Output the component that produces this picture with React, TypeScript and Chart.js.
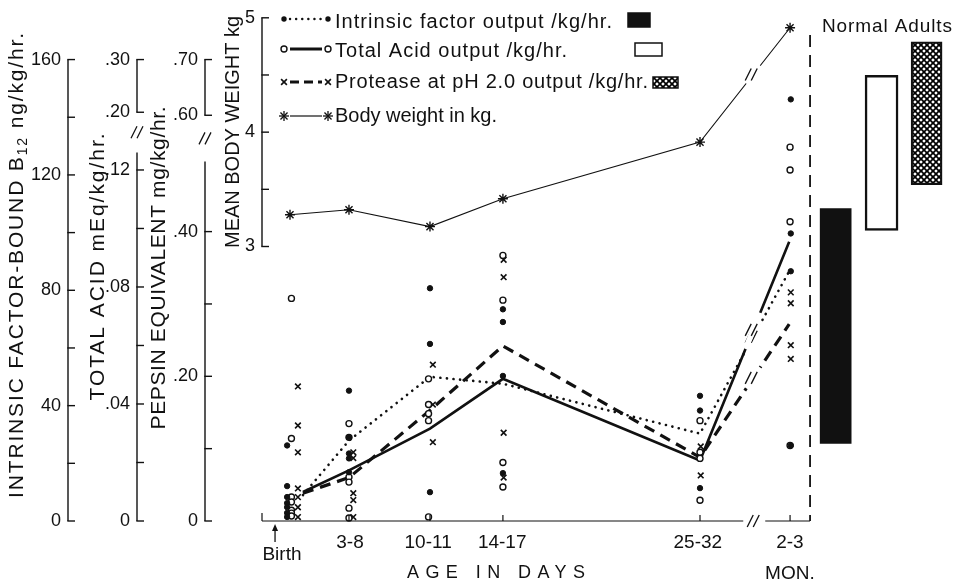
import React, { useEffect, useRef } from 'react';
import { Chart, registerables, LinearScale } from 'chart.js';

// ---------------- data ----------------
const groupLabels: (string | string[])[] = ['Birth', '3-8', '10-11', '14-17', '25-32', ['2-3', 'MON.']];
// position of each age group on the (broken) age axis
const groupPos = [0, 4.1, 9.73, 14.8, 28.5, 34.76];
const labelPos = [-0.56, 4.17, 9.6, 14.75, 28.35, 34.75];
const meanPos = [0.9, 4.1, 9.73, 14.8, 28.5, 34.7];
const ifShift = [-0.2, 0, 0, 0, 0, 0.05];
const acidShift = [0.1, 0, -0.1, 0, 0, 0];
const protShift = [0.55, 0.3, 0.2, 0.05, 0.05, 0.05];

const seriesNames = [
  'Intrinsic factor output /kg/hr.',
  'Total Acid output /kg/hr.',
  'Protease at pH 2.0 output /kg/hr.',
  'Body weight in kg.',
];

// individual infants, per age group
const ifValues = [
  [26.2, 12.1, 8.3, 6.2, 4.8, 2.8, 1.4],
  [45.2, 29.0, 23.4, 21.7, 16.9],
  [80.7, 61.4, 10.0],
  [73.4, 69.0, 50.3, 16.6],
  [43.4, 38.3, 11.4],
  [146.2, 99.7, 86.6, 26.2],
];
const acidValues = [
  [0.0761, 0.0282, 0.0082, 0.0065, 0.0037, 0.0027, 0.0017],
  [0.0333, 0.0286, 0.015, 0.0133, 0.0044, 0.001],
  [0.0486, 0.0398, 0.0367, 0.0343, 0.0014],
  [0.0908, 0.0755, 0.02, 0.0116],
  [0.0343, 0.0235, 0.0214, 0.0071],
  [0.1278, 0.12, 0.1023, 0.0258],
];
const proteaseValues = [
  [0.186, 0.132, 0.095, 0.045, 0.033, 0.019, 0.0055],
  [0.095, 0.087, 0.0385, 0.029, 0.0055],
  [0.216, 0.161, 0.109],
  [0.361, 0.337, 0.122, 0.06],
  [0.103, 0.063],
  [0.316, 0.301, 0.243, 0.224],
];
// group means
const ifMean = [9.0, 27.9, 50.0, 47.6, 30.3, 86.6];
const acidMean = [0.0099, 0.0173, 0.0316, 0.0486, 0.0207, 0.0955];
const proteaseMean = [0.0385, 0.06, 0.153, 0.242, 0.088, 0.272];
const bodyWeight = [3.278, 3.322, 3.174, 3.417, 3.913, 4.913];

// normal adults ranges
const adultPos = [37.93, 41.12, 44.25];
const adultIF = [26.9, 108.3];
const adultAcid = [0.0993, 0.27];
const adultProtease = [0.465, 0.732];

// axis ticks
const ifTicks = [0, 20, 40, 60, 80, 100, 120, 140, 160];
const ifTickText = ['0', '', '40', '', '80', '', '120', '', '160'];
const acidTicks = [0, 0.02, 0.04, 0.06, 0.08, 0.1, 0.12, 0.2, 0.3];
const acidTickText = ['0', '', '.04', '', '.08', '', '.12', '.20', '.30'];
const pepsinTicks = [0, 0.1, 0.2, 0.3, 0.4, 0.6, 0.7];
const pepsinTickText = ['0', '', '.20', '', '.40', '.60', '.70'];
const weightTicks = [3, 3.5, 4, 4.5, 5];
const weightTickText = ['3', '', '4', '', '5'];

// ---------------- axis geometry (broken axes) ----------------
type Piece = { min: number; max: number; from: number; to: number };
const ifPieces: Piece[] = [{ min: 0, max: 160, from: 0, to: 0.917 }];
const acidPieces: Piece[] = [
  { min: 0, max: 0.12, from: 0, to: 0.6976 },
  { min: 0.2, max: 0.3, from: 0.8123, to: 0.917 },
];
const pepsinPieces: Piece[] = [
  { min: 0, max: 0.4, from: 0, to: 0.5751 },
  { min: 0.6, max: 0.7, from: 0.8063, to: 0.917 },
];
const weightPieces: Piece[] = [{ min: 3, max: 5, from: 0.5455, to: 1 }];
const ifSpans = [[0, 160]];
const acidSpans = [[0, 0.126], [0.2, 0.3]];
const pepsinSpans = [[0, 0.497], [0.6, 0.7]];
const weightSpans = [[3, 5]];
const X_MIN = -1.9463;
const X_MAX = 46.225;
const SEPARATOR_POS = 36.15;
const BREAK_POS = 32.2;
const ARROW_POS = -1.04;

const FONT = '"Liberation Sans", Arial, Helvetica, sans-serif';
const INK = '#111111';

class BrokenScale extends LinearScale {
  static id = 'broken';
  static defaults = {};
  getPixelForValue(value: number) {
    const self: any = this;
    const pieces: Piece[] = self.options.pieces;
    let p = pieces[0];
    for (const q of pieces) if (value >= q.min) p = q;
    const f = p.from + ((value - p.min) / (p.max - p.min)) * (p.to - p.from);
    return self.bottom - f * (self.bottom - self.top);
  }
  getValueForPixel(pixel: number) {
    const self: any = this;
    const pieces: Piece[] = self.options.pieces;
    const f = (self.bottom - pixel) / (self.bottom - self.top);
    let p = pieces[0];
    for (const q of pieces) if (f >= q.from) p = q;
    return p.min + ((f - p.from) / (p.to - p.from)) * (p.max - p.min);
  }
}

Chart.register(...registerables, BrokenScale as any);

type Part = { t: string; size: number; dy?: number };

function seg(ctx: CanvasRenderingContext2D, x0: number, y0: number, x1: number, y1: number) {
  ctx.beginPath();
  ctx.moveTo(x0, y0);
  ctx.lineTo(x1, y1);
  ctx.stroke();
}

function breakMark(ctx: CanvasRenderingContext2D, x: number, y: number) {
  ctx.save();
  ctx.setLineDash([]);
  ctx.strokeStyle = INK;
  ctx.lineWidth = 1.3;
  for (const dx of [-3, 3]) seg(ctx, x + dx - 3, y + 6, x + dx + 3, y - 6);
  ctx.restore();
}

function fitted(ctx: CanvasRenderingContext2D, parts: Part[], cx: number, cy: number, length: number, vertical = false) {
  const c: any = ctx;
  ctx.save();
  ctx.translate(cx, cy);
  if (vertical) ctx.rotate(-Math.PI / 2);
  ctx.fillStyle = INK;
  ctx.textBaseline = 'alphabetic';
  ctx.textAlign = 'left';
  let natural = 0;
  let chars = 0;
  const widths = parts.map((p) => {
    ctx.font = `${p.size}px ${FONT}`;
    c.letterSpacing = '0px';
    const w = ctx.measureText(p.t).width;
    natural += w;
    chars += p.t.length;
    return w;
  });
  const sp = (length - natural) / Math.max(1, chars - 1);
  let x = -length / 2;
  parts.forEach((p, i) => {
    ctx.font = `${p.size}px ${FONT}`;
    c.letterSpacing = `${sp}px`;
    ctx.fillText(p.t, x, p.dy || 0);
    x += widths[i] + sp * p.t.length;
  });
  ctx.restore();
}

function marker(ctx: CanvasRenderingContext2D, kind: string, x: number, y: number) {
  ctx.save();
  ctx.setLineDash([]);
  ctx.strokeStyle = INK;
  ctx.fillStyle = INK;
  if (kind === 'dot') {
    ctx.beginPath();
    ctx.arc(x, y, 2.7, 0, Math.PI * 2);
    ctx.fill();
  } else if (kind === 'ring') {
    ctx.beginPath();
    ctx.arc(x, y, 3, 0, Math.PI * 2);
    ctx.fillStyle = '#fff';
    ctx.fill();
    ctx.lineWidth = 1.4;
    ctx.stroke();
  } else if (kind === 'cross') {
    const d = 2.9;
    ctx.lineWidth = 1.6;
    seg(ctx, x - d, y - d, x + d, y + d);
    seg(ctx, x - d, y + d, x + d, y - d);
  } else {
    const r = 5;
    const d = r * 0.707;
    ctx.lineWidth = 1.3;
    seg(ctx, x - r, y, x + r, y);
    seg(ctx, x, y - r, x, y + r);
    seg(ctx, x - d, y - d, x + d, y + d);
    seg(ctx, x - d, y + d, x + d, y - d);
  }
  ctx.restore();
}

function makeHatch(): CanvasPattern | string {
  const c = document.createElement('canvas');
  c.width = 6;
  c.height = 6;
  const g = c.getContext('2d');
  if (!g) return '#555';
  g.fillStyle = '#fff';
  g.fillRect(0, 0, 6, 6);
  g.strokeStyle = '#000';
  g.lineWidth = 1.7;
  g.beginPath();
  for (const k of [-6, 0, 6]) {
    g.moveTo(k, 0);
    g.lineTo(k + 6, 6);
    g.moveTo(k, 6);
    g.lineTo(k + 6, 0);
  }
  g.stroke();
  return g.createPattern(c, 'repeat') || '#555';
}

function makeDecorations(hatch: CanvasPattern | string) {
  return {
    id: 'decorations',
    afterDraw(chart: any) {
      const ctx: CanvasRenderingContext2D = chart.ctx;
      const { scales, chartArea } = chart;
      const x = scales.x;
      ctx.save();
      ctx.strokeStyle = INK;
      ctx.fillStyle = INK;
      ctx.lineCap = 'butt';

      // y axes: lines with inward ticks and break marks
      const axes = [
        { s: scales.yIF, spans: ifSpans },
        { s: scales.yAcid, spans: acidSpans },
        { s: scales.yPep, spans: pepsinSpans },
        { s: scales.yBW, spans: weightSpans },
      ];
      for (const a of axes) {
        const ax = a.s.right;
        ctx.lineWidth = 1.4;
        for (const [v0, v1] of a.spans) seg(ctx, ax, a.s.getPixelForValue(v0), ax, a.s.getPixelForValue(v1));
        for (const t of a.s.ticks) {
          const py = a.s.getPixelForValue(t.value);
          seg(ctx, ax - 0.7, py, ax + 7, py);
        }
        if (a.spans.length > 1) {
          const yb = (a.s.getPixelForValue(a.spans[0][1]) + a.s.getPixelForValue(a.spans[1][0])) / 2;
          breakMark(ctx, ax, yb);
        }
      }

      // line breaks between 25-32 days and 2-3 months
      const xb = x.getPixelForValue(BREAK_POS);
      chart.data.datasets.forEach((ds: any, i: number) => {
        if (ds.type !== 'line') return;
        const pts = chart.getDatasetMeta(i).data;
        for (let k = 0; k < pts.length - 1; k++) {
          const a = pts[k];
          const b = pts[k + 1];
          if (a.x < xb && b.x > xb) {
            const yAt = (px: number) => a.y + ((px - a.x) / (b.x - a.x)) * (b.y - a.y);
            ctx.save();
            ctx.strokeStyle = '#fff';
            ctx.lineWidth = (ds.borderWidth || 1) + 3;
            seg(ctx, xb - 7, yAt(xb - 7), xb + 7, yAt(xb + 7));
            ctx.restore();
            breakMark(ctx, xb - 2, yAt(xb));
          }
        }
      });

      // x axis baseline
      const yBase = scales.yIF.getPixelForValue(0);
      const xL = chartArea.left;
      const xSep = x.getPixelForValue(SEPARATOR_POS);
      ctx.lineWidth = 1.2;
      seg(ctx, xL, yBase - 8, xL, yBase);
      seg(ctx, xL, yBase, xb - 10, yBase);
      seg(ctx, xb + 12, yBase, xSep, yBase);
      breakMark(ctx, xb, yBase);
      for (let g = 1; g < groupPos.length; g++) {
        const px = x.getPixelForValue(groupPos[g]);
        seg(ctx, px, yBase, px, yBase - 6);
      }

      // separator for normal adults
      ctx.save();
      ctx.lineWidth = 1.8;
      ctx.setLineDash([12, 8]);
      seg(ctx, xSep, 35, xSep, yBase);
      ctx.restore();

      // birth arrow
      const xa = x.getPixelForValue(ARROW_POS);
      ctx.lineWidth = 1.3;
      seg(ctx, xa, yBase + 21, xa, yBase + 6);
      ctx.beginPath();
      ctx.moveTo(xa, yBase + 3);
      ctx.lineTo(xa - 3, yBase + 10);
      ctx.lineTo(xa + 3, yBase + 10);
      ctx.closePath();
      ctx.fill();

      // axis titles
      fitted(ctx, [
        { t: 'INTRINSIC FACTOR-BOUND B', size: 21 },
        { t: '12', size: 14, dy: 4 },
        { t: ' ng/kg/hr.', size: 21 },
      ], 23, 265.5, 465, true);
      fitted(ctx, [{ t: 'TOTAL ACID mEq/kg/hr.', size: 21 }], 104, 267, 267, true);
      fitted(ctx, [{ t: 'PEPSIN EQUIVALENT mg/kg/hr.', size: 21 }], 165, 268, 323, true);
      fitted(ctx, [{ t: 'MEAN BODY WEIGHT kg', size: 20 }], 239, 132, 232, true);
      fitted(ctx, [{ t: 'AGE IN DAYS', size: 18 }], 496, 578, 178);
      fitted(ctx, [{ t: 'Normal Adults', size: 19 }], 887, 32, 130);

      // legend
      const rows = [
        { kind: 'dot', dash: [0.1, 6], w: 2.4, cap: 'round', y: 19, base: 28, width: 277, sw: [628, 13, 22, 14], fill: INK },
        { kind: 'ring', dash: [], w: 3, cap: 'butt', y: 49, base: 57, width: 232, sw: [635, 43, 27, 13], fill: '#fff' },
        { kind: 'cross', dash: [9, 5], w: 3, cap: 'butt', y: 82, base: 88, width: 313, sw: [653, 77, 25, 11], fill: hatch },
        { kind: 'star', dash: [], w: 1.2, cap: 'butt', y: 116, base: 122, width: 162, sw: null as any, fill: '' },
      ];
      rows.forEach((r, i) => {
        ctx.save();
        ctx.strokeStyle = INK;
        ctx.lineWidth = r.w;
        ctx.lineCap = r.cap as CanvasLineCap;
        ctx.setLineDash(r.dash);
        seg(ctx, 290, r.y, 322, r.y);
        ctx.restore();
        marker(ctx, r.kind, 284, r.y);
        marker(ctx, r.kind, 328, r.y);
        fitted(ctx, [{ t: seriesNames[i], size: 20 }], 335 + r.width / 2, r.base, r.width);
        if (r.sw) {
          const [sx, sy, sw, sh] = r.sw;
          ctx.save();
          ctx.fillStyle = r.fill as any;
          ctx.fillRect(sx, sy, sw, sh);
          ctx.strokeStyle = INK;
          ctx.lineWidth = 1.5;
          ctx.strokeRect(sx, sy, sw, sh);
          ctx.restore();
        }
      });
      ctx.restore();
    },
  };
}

function yAxis(pieces: Piece[], ticks: number[], texts: string[], weight: number, width: number, max: number) {
  return {
    type: 'broken',
    position: 'left',
    weight,
    pieces,
    min: 0,
    max,
    offset: false,
    afterBuildTicks: (s: any) => {
      s.ticks = ticks.map((v) => ({ value: v }));
    },
    afterFit: (s: any) => {
      s.width = width;
    },
    grid: { display: false, drawTicks: false, offset: false },
    border: { display: false },
    ticks: {
      autoSkip: false,
      padding: 7,
      color: INK,
      font: { family: FONT, size: 18 },
      callback: (_v: any, i: number) => texts[i],
    },
  };
}

const pts = (vals: number[][], shift: number[]) =>
  vals.flatMap((col, g) => col.map((v) => ({ x: groupPos[g] + shift[g], y: v })));

export default function App() {
  const ref = useRef<HTMLCanvasElement>(null);
  useEffect(() => {
    const canvas = ref.current;
    if (!canvas) return;
    const hatch = makeHatch();
    const datasets: any[] = [
      {
        type: 'scatter', label: 'Intrinsic factor (individual)', data: pts(ifValues, ifShift), yAxisID: 'yIF',
        pointStyle: 'circle', pointRadius: 2.7, pointBackgroundColor: INK, pointBorderColor: INK, pointBorderWidth: 1, clip: false,
      },
      {
        type: 'scatter', label: 'Total acid (individual)', data: pts(acidValues, acidShift), yAxisID: 'yAcid',
        pointStyle: 'circle', pointRadius: 3, pointBackgroundColor: '#fff', pointBorderColor: INK, pointBorderWidth: 1.4, clip: false,
      },
      {
        type: 'scatter', label: 'Protease (individual)', data: pts(proteaseValues, protShift), yAxisID: 'yPep',
        pointStyle: 'crossRot', pointRadius: 4, pointBorderColor: INK, pointBorderWidth: 1.6, clip: false,
      },
      {
        type: 'line', label: seriesNames[0], data: meanPos.map((x, i) => ({ x, y: ifMean[i] })), yAxisID: 'yIF',
        borderColor: INK, borderWidth: 2.6, borderDash: [0.1, 6.5], borderCapStyle: 'round', pointRadius: 0, fill: false, clip: false,
      },
      {
        type: 'line', label: seriesNames[1], data: meanPos.map((x, i) => ({ x, y: acidMean[i] })), yAxisID: 'yAcid',
        borderColor: INK, borderWidth: 2.6, pointRadius: 0, fill: false, clip: false,
      },
      {
        type: 'line', label: seriesNames[2], data: meanPos.map((x, i) => ({ x, y: proteaseMean[i] })), yAxisID: 'yPep',
        borderColor: INK, borderWidth: 3.2, borderDash: [11, 7], pointRadius: 0, fill: false, clip: false,
      },
      {
        type: 'line', label: seriesNames[3], data: groupPos.map((x, i) => ({ x, y: bodyWeight[i] })), yAxisID: 'yBW',
        borderColor: INK, borderWidth: 1.1, pointStyle: 'star', pointRadius: 5, pointBorderColor: INK,
        pointBorderWidth: 1.4, pointBackgroundColor: INK, fill: false, clip: false,
      },
      {
        type: 'bar', label: 'Normal adults: intrinsic factor', data: [{ x: adultPos[0], y: adultIF }], yAxisID: 'yIF',
        backgroundColor: INK, borderColor: INK, borderWidth: 0, barThickness: 31, grouped: false, borderSkipped: false,
      },
      {
        type: 'bar', label: 'Normal adults: total acid', data: [{ x: adultPos[1], y: adultAcid }], yAxisID: 'yAcid',
        backgroundColor: '#fff', borderColor: INK, borderWidth: 2.5, barThickness: 33, grouped: false, borderSkipped: false,
      },
      {
        type: 'bar', label: 'Normal adults: protease', data: [{ x: adultPos[2], y: adultProtease }], yAxisID: 'yPep',
        backgroundColor: hatch, borderColor: INK, borderWidth: 2.2, barThickness: 31, grouped: false, borderSkipped: false,
      },
    ];

    const chart = new Chart(canvas, {
      type: 'scatter',
      data: { datasets },
      options: {
        responsive: false,
        animation: false,
        devicePixelRatio: 1,
        events: [],
        layout: { padding: { top: 15, right: 6, left: 0, bottom: 0 }, autoPadding: false },
        plugins: { legend: { display: false }, tooltip: { enabled: false }, title: { display: false } },
        scales: {
          x: {
            type: 'linear',
            position: 'bottom',
            min: X_MIN,
            max: X_MAX,
            offset: false,
            afterBuildTicks: (s: any) => {
              s.ticks = labelPos.map((v) => ({ value: v }));
            },
            afterFit: (s: any) => {
              s.height = 63;
            },
            grid: { display: false, drawTicks: false, offset: false },
            border: { display: false },
            ticks: {
              autoSkip: false,
              maxRotation: 0,
              minRotation: 0,
              padding: 6.5,
              color: INK,
              font: (c: any) => ({ family: FONT, size: 19, lineHeight: (c.index === 0 ? 55 : 31) / 19 }),
              callback: (_v: any, i: number) => groupLabels[i],
            },
          },
          yIF: yAxis(ifPieces, ifTicks, ifTickText, 4, 68, 174.5),
          yAcid: yAxis(acidPieces, acidTicks, acidTickText, 3, 69, 0.379),
          yPep: yAxis(pepsinPieces, pepsinTicks, pepsinTickText, 2, 68, 0.775),
          yBW: yAxis(weightPieces, weightTicks, weightTickText, 1, 57, 5),
        } as any,
      },
      plugins: [makeDecorations(hatch)],
    } as any);
    return () => chart.destroy();
  }, []);

  return (
    <div style={{ position: 'fixed', left: 0, top: 0, width: 961, height: 584, background: '#fff' }}>
      <canvas ref={ref} width={961} height={584} style={{ display: 'block', width: 961, height: 584 }} />
    </div>
  );
}
